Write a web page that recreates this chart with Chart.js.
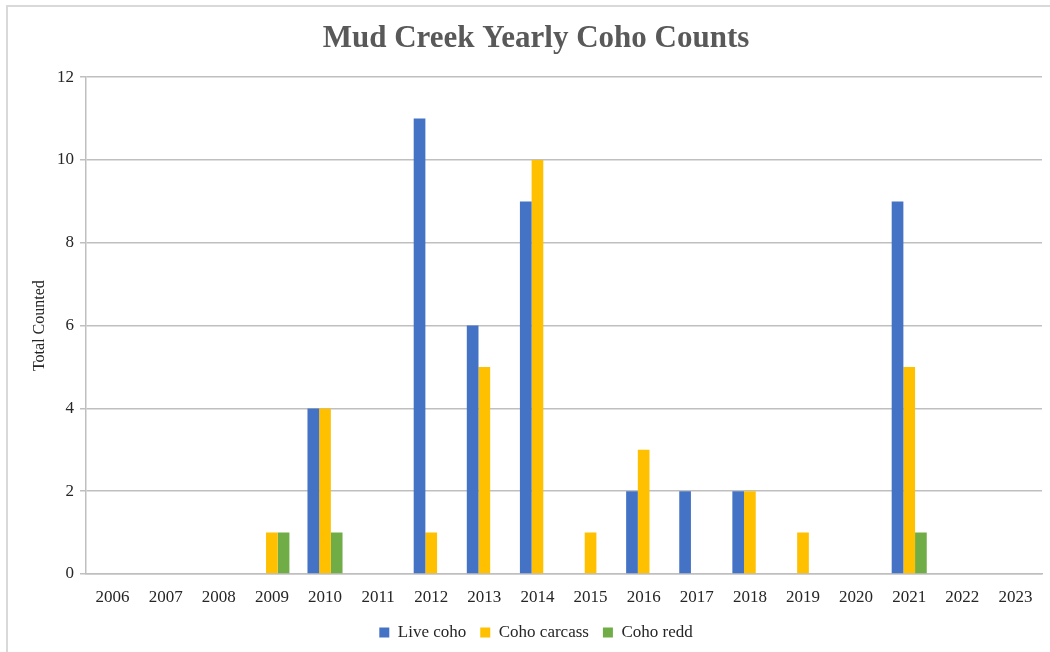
<!DOCTYPE html>
<html>
<head>
<meta charset="utf-8">
<title>Mud Creek Yearly Coho Counts</title>
<script src="https://cdn.jsdelivr.net/npm/chart.js@4/dist/chart.umd.min.js"></script>
<style>
  html, body { margin: 0; padding: 0; background: #fff; }
  #wrap { position: relative; width: 1050px; height: 652px; overflow: hidden; }
  #frame { position: absolute; left: 6px; top: 5px; width: 1100px; height: 700px;
           border: 2px solid #d9d9d9; box-sizing: border-box; }
  #chart { position: absolute; left: 0; top: 0; }
</style>
</head>
<body>
<div id="wrap">
  <div id="frame"></div>
  <canvas id="chart" width="1050" height="652"></canvas>
</div>
<script>
// Survey years
const years = ['2006','2007','2008','2009','2010','2011','2012','2013','2014',
               '2015','2016','2017','2018','2019','2020','2021','2022','2023'];

// Counts per year (null where nothing was recorded)
const liveCoho    = [null,null,null,null,4,null,11,6,9,null,2,2,2,null,null,9,null,null];
const cohoCarcass = [null,null,null,1,4,null,1,5,10,1,3,null,2,1,null,5,null,null];
const cohoRedd    = [null,null,null,1,1,null,null,null,null,null,null,null,null,null,null,1,null,null];

const yTicks = { min: 0, max: 12, step: 2 };

const serif = '"Liberation Serif", "Times New Roman", serif';

new Chart(document.getElementById('chart'), {
  type: 'bar',
  data: {
    labels: years,
    datasets: [
      { label: 'Live coho',    data: liveCoho,    backgroundColor: '#4472C4' },
      { label: 'Coho carcass', data: cohoCarcass, backgroundColor: '#FFC000' },
      { label: 'Coho redd',    data: cohoRedd,    backgroundColor: '#70AD47' }
    ]
  },
  options: {
    responsive: false,
    animation: false,
    layout: { padding: { left: 30, right: 8, top: 0, bottom: 1 } },
    datasets: { bar: { barPercentage: 1, categoryPercentage: 0.66 } },
    plugins: {
      tooltip: { enabled: false },
      title: {
        display: true,
        text: 'Mud Creek Yearly Coho Counts',
        color: '#595959',
        font: { family: serif, size: 31, weight: 'bold' },
        padding: { top: 20, bottom: 20 }
      },
      legend: {
        position: 'bottom',
        labels: {
          boxWidth: 10, boxHeight: 10, padding: 14,
          color: '#262626',
          font: { family: serif, size: 17 }
        }
      }
    },
    scales: {
      x: {
        grid: { display: false, drawTicks: false },
        border: { display: true, color: '#bfbfbf', width: 1.5 },
        ticks: { color: '#262626', font: { family: serif, size: 17 }, padding: 13, maxRotation: 0 },
        afterFit: function (scale) { scale.height = 36; }
      },
      y: {
        min: yTicks.min, max: yTicks.max,
        ticks: { stepSize: yTicks.step, color: '#262626', font: { family: serif, size: 17 }, padding: 6 },
        grid: { color: '#bfbfbf', lineWidth: 1.5, tickLength: 6 },
        border: { display: true, color: '#bfbfbf', width: 1.5 },
        title: {
          display: true, text: 'Total Counted', color: '#262626',
          font: { family: serif, size: 16 }, padding: { top: 0, bottom: 12 }
        },
        afterFit: function (scale) { scale.width = 56; }
      }
    }
  }
});
</script>
</body>
</html>
